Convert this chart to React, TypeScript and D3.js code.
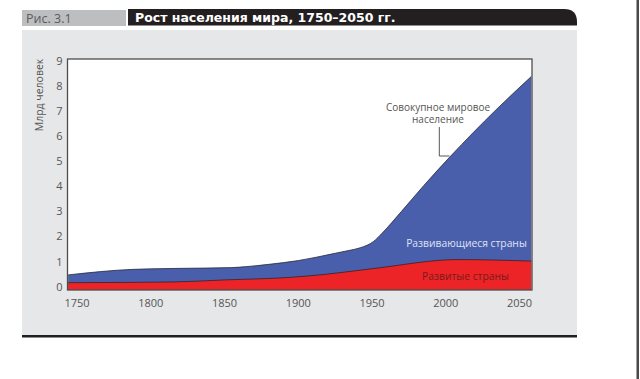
import React from "react";
import * as d3 from "d3";

const totalYears = [1744, 1788, 1800, 1820, 1855, 1865, 1880, 1900, 1925, 1935, 1942, 1951, 1957, 1970, 1985, 2003, 2034, 2058];
const totalValues = [0.47, 0.69, 0.71, 0.73, 0.76, 0.8, 0.89, 1.04, 1.33, 1.45, 1.55, 1.8, 2.14, 3.0, 4.02, 5.18, 7.04, 8.37];

const developedYears = [1744, 1816, 1850, 1894, 1918, 1952, 2008, 2058];
const developedValues = [0.16, 0.19, 0.27, 0.37, 0.49, 0.73, 1.08, 1.02];

const xTicks = [1750, 1800, 1850, 1900, 1950, 2000, 2050];
const yTicks = [0, 1, 2, 3, 4, 5, 6, 7, 8, 9];

const figLabel = "Рис. 3.1";
const title = "Рост населения мира, 1750–2050 гг.";
const yLabel = "Млрд человек";
const worldLabel = ["Совокупное мировое", "население"];
const developingLabel = "Развивающиеся страны";
const developedLabel = "Развитые страны";

export default function App() {
  const W = 640, H = 379;
  const plotL = 67.5, plotR = 532, plotT = 59, plotB = 290;
  const x = d3.scaleLinear().domain([1750, 2050]).range([77, 519.5]);
  const y = d3.scaleLinear().domain([0, 9]).range([286.7, 60.7]);

  const total = totalYears.map((yr, i) => [yr, totalValues[i]] as [number, number]);
  const developed = developedYears.map((yr, i) => [yr, developedValues[i]] as [number, number]);

  const area = d3.area<[number, number]>().x(d => x(d[0])).y0(plotB).y1(d => y(d[1])).curve(d3.curveMonotoneX);
  const line = d3.line<[number, number]>().x(d => x(d[0])).y(d => y(d[1])).curve(d3.curveMonotoneX);

  const font = "'Open Sans', 'Noto Sans', sans-serif";
  const r = 13;
  const barL = 128, barR = 577, barT = 9, barB = 25.5;
  const barPath = `M${barL},${barB} L${barL},${barT} L${barR - r},${barT} Q${barR},${barT} ${barR},${barT + r} L${barR},${barB} Z`;

  return (
    <svg width={W} height={H} style={{ position: "absolute", left: 0, top: 0 }} xmlns="http://www.w3.org/2000/svg">
      <rect x={0} y={0} width={W} height={H} fill="#ffffff" />
      <rect x={22} y={10} width={104} height={16} fill="#bdbec0" />
      <text x={26} y={22.5} fontFamily={font} fontSize={12.5} fill="#5a5a5a">{figLabel}</text>
      <path d={barPath} fill="#231f20" />
      <text x={135} y={22} fontFamily="'DejaVu Sans', sans-serif" fontWeight="bold" fontSize={12.5} fill="#ffffff">{title}</text>
      <rect x={22} y={30} width={555} height={306} fill="#e6e7e8" />
      <rect x={22} y={335} width={555} height={2.5} fill="#231f20" />
      <rect x={636.5} y={0} width={2.5} height={H} fill="#4a4a4a" />

      <rect x={plotL} y={plotT} width={plotR - plotL} height={plotB - plotT} fill="#ffffff" />
      <path d={area(total) || ""} fill="#4a5fab" />
      <path d={area(developed) || ""} fill="#ec2427" />
      <path d={line(total) || ""} fill="none" stroke="#2a2a3a" strokeWidth={0.8} />
      <path d={line(developed) || ""} fill="none" stroke="#3a2020" strokeWidth={0.8} />
      <rect x={plotL} y={plotT} width={plotR - plotL} height={plotB - plotT} fill="none" stroke="#4d4d4d" strokeWidth={1.3} />

      {yTicks.map(t => (
        <text key={t} x={62.5} y={y(t)} dy="0.36em" textAnchor="end" fontFamily={font} fontSize={11} fill="#555">{t}</text>
      ))}
      {xTicks.map(t => (
        <text key={t} x={x(t)} y={303} dy="0.36em" textAnchor="middle" fontFamily={font} fontSize={11} fill="#555">{t}</text>
      ))}
      <text transform="translate(43,95) rotate(-90)" textAnchor="middle" fontFamily={font} fontSize={10.5} fill="#555">{yLabel}</text>

      <text x={438} y={110.5} textAnchor="middle" fontFamily={font} fontSize={10} fill="#555">{worldLabel[0]}</text>
      <text x={438} y={122.5} textAnchor="middle" fontFamily={font} fontSize={10} fill="#555">{worldLabel[1]}</text>
      <path d="M439.3,127 L439.3,156 L449.5,156" fill="none" stroke="#555" strokeWidth={1} />

      <text x={466.5} y={243.5} dy="0.36em" textAnchor="middle" fontFamily={font} fontSize={10.3} fill="#dfe3f3">{developingLabel}</text>
      <text x={465.5} y={276} dy="0.36em" textAnchor="middle" fontFamily={font} fontSize={10.3} fill="#7a1a1a">{developedLabel}</text>
    </svg>
  );
}
